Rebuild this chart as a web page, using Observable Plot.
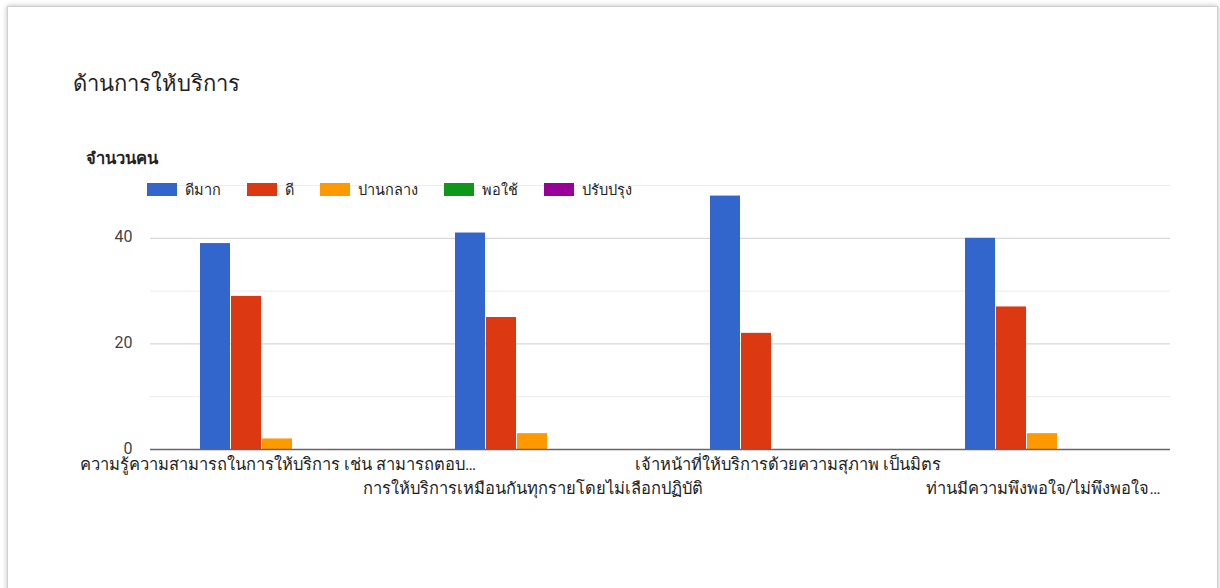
<!DOCTYPE html>
<html><head><meta charset="utf-8">
<script src="https://cdn.jsdelivr.net/npm/d3@7"></script>
<script src="https://cdn.jsdelivr.net/npm/@observablehq/plot@0.6"></script>
<style>
body{margin:0;background:#fff;font-family:Roboto,"Noto Sans",sans-serif;width:1220px;height:588px;overflow:hidden;position:relative;}
#card{position:absolute;left:7px;top:6px;width:1209px;height:600px;border:1px solid #d0d0d0;box-shadow:0 0 5px rgba(0,0,0,.28);background:#fff;}
#title{position:absolute;left:73px;top:66px;font-size:22px;color:#222;}
#ylabel{position:absolute;left:86px;top:145px;font-size:16.5px;font-weight:bold;color:#222;}
#legend{position:absolute;left:147px;top:178px;display:flex;gap:26px;font-size:14.5px;color:#222;z-index:2;}
#legend .item{display:flex;align-items:center;gap:8px;}
#legend .sw{width:30px;height:13px;display:inline-block;}
#chart{position:absolute;left:0;top:140px;}
</style></head>
<body>
<div id="card"></div>
<div id="title">ด้านการให้บริการ</div>
<div id="ylabel">จำนวนคน</div>
<div id="legend"></div>
<div id="chart"></div>
<script>
const questions = [
  "ความรู้ความสามารถในการให้บริการ เช่น สามารถตอบ…",
  "การให้บริการเหมือนกันทุกรายโดยไม่เลือกปฏิบัติ",
  "เจ้าหน้าที่ให้บริการด้วยความสุภาพ เป็นมิตร",
  "ท่านมีความพึงพอใจ/ไม่พึงพอใจ…"
];
const seriesNames = ["ดีมาก", "ดี", "ปานกลาง", "พอใช้", "ปรับปรุง"];
const seriesColors = ["#3366cc", "#dc3912", "#ff9900", "#109618", "#990099"];
const veryGood = [39, 41, 48, 40];
const good = [29, 25, 22, 27];
const medium = [2, 3, 0, 3];
const fair = [0, 0, 0, 0];
const improve = [0, 0, 0, 0];
const yTicks = [0, 20, 40];
const minorTicks = [10, 30, 50];

const seriesValues = [veryGood, good, medium, fair, improve];
const data = [];
questions.forEach((q, i) => seriesNames.forEach((s, j) => data.push({q, s, v: seriesValues[j][i]})));

// legend
const lg = document.getElementById("legend");
seriesNames.forEach((s, j) => {
  const it = document.createElement("div"); it.className = "item";
  const sw = document.createElement("span"); sw.className = "sw"; sw.style.background = seriesColors[j];
  const tx = document.createElement("span"); tx.textContent = s;
  it.appendChild(sw); it.appendChild(tx); lg.appendChild(it);
});

const row1 = questions.filter((d, i) => i % 2 === 0);
const row2 = questions.filter((d, i) => i % 2 === 1);

const chart = Plot.plot({
  width: 1220,
  height: 380,
  marginLeft: 148,
  marginRight: 49,
  marginTop: 45,
  marginBottom: 71,
  style: {fontFamily: 'Roboto, "Noto Sans", sans-serif', background: "transparent"},
  fx: {domain: questions, paddingInner: 0, paddingOuter: 0, axis: null},
  x: {domain: seriesNames, axis: null, paddingInner: 0.03, paddingOuter: 1.55},
  y: {domain: [0, 50]},
  color: {domain: seriesNames, range: seriesColors},
  marks: [
    Plot.gridY(minorTicks, {stroke: "#ececec", strokeOpacity: 1}),
    Plot.gridY([20, 40], {stroke: "#cfcfcf", strokeOpacity: 1}),
    Plot.axisY(yTicks, {tickSize: 0, tickPadding: 18, fontSize: 16, dy: -1, color: "#444", label: null}),
    Plot.barY(data, {fx: "q", x: "s", y: "v", fill: "s"}),
    Plot.ruleY([0], {stroke: "#666", strokeWidth: 1.5}),
    Plot.text(row1, {fx: d => d, text: d => d, frameAnchor: "bottom", lineAnchor: "top", dy: 9, fontSize: 16.5, fill: "#222"}),
    Plot.text(row2, {fx: d => d, text: d => d, frameAnchor: "bottom", lineAnchor: "top", dy: 33, fontSize: 16.5, fill: "#222"})
  ]
});
document.getElementById("chart").appendChild(chart);
</script>
</body></html>
